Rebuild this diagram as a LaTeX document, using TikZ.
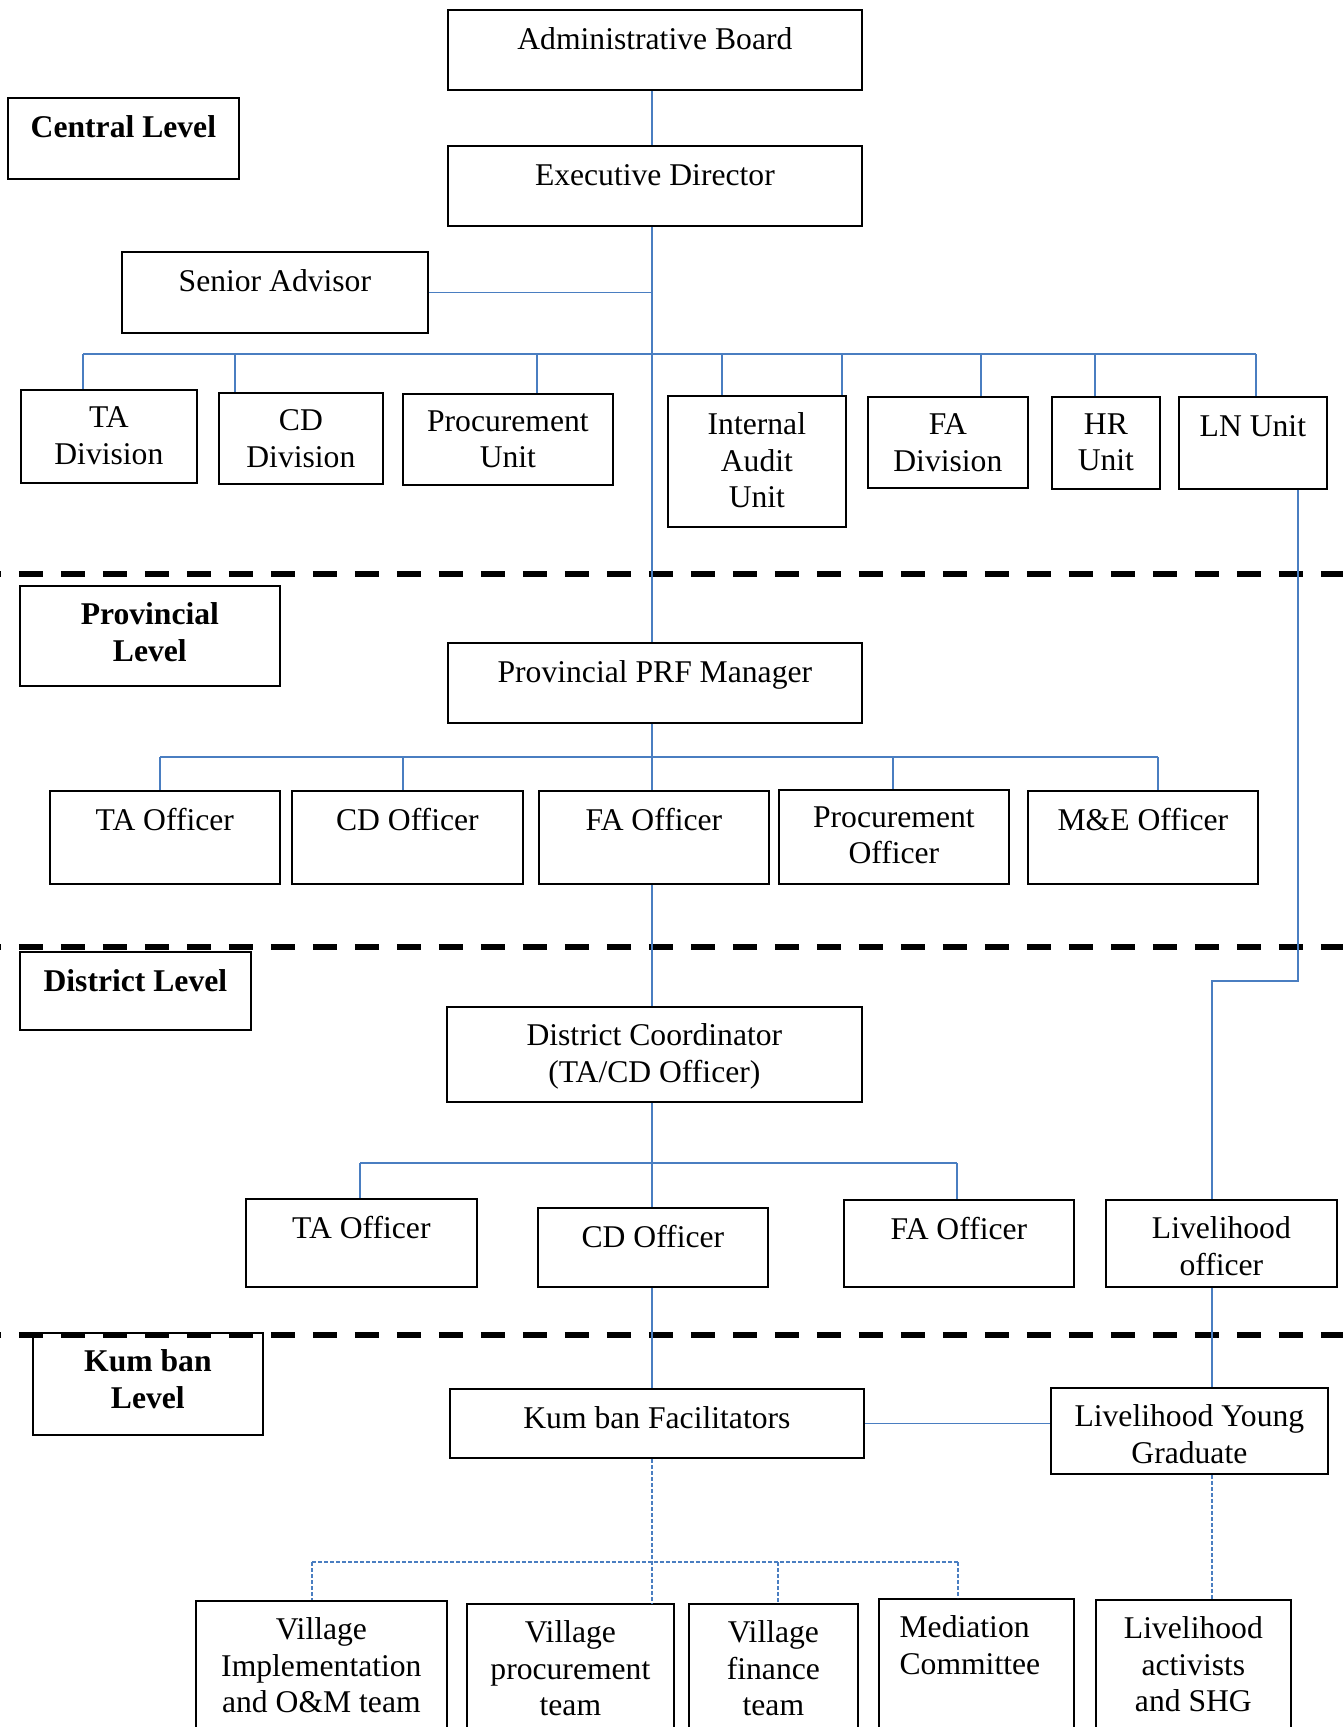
\documentclass[tikz,border=0pt]{standalone}
\usepackage{fontspec}
\setmainfont{Liberation Serif}
\definecolor{orgblue}{RGB}{74,126,193}
\tikzset{
  unitbox/.style={draw=black, line width=0.5pt, anchor=north west, inner sep=0pt},
  unittext/.style={anchor=north, align=center, inner sep=0pt,
    font=\fontsize{9pt}{10.4pt}\selectfont,
    execute at begin node={\rule{0pt}{6.5pt}}},
  leveltext/.style={unittext, font=\bfseries\fontsize{9pt}{10.6pt}\selectfont},
  link/.style={draw=orgblue, line width=0.5pt},
  softlink/.style={link, dash pattern=on 0.4mm off 0.2mm},
  levelsep/.style={draw=black, line width=0.6mm, dash pattern=on 2.4mm off 1.8mm, dash phase=2.3mm}
}
% box with its text hung from the top edge: [text style]{name}{x1}{y1}{x2}{y2}{text}
\newcommand{\orgunit}[7][unittext]{%
  \node[unitbox, minimum width={(#5-#3)*0.1mm}, minimum height={(#6-#4)*0.1mm}] (#2) at (#3,#4) {};
  \node[#1] (#2-txt) at ([yshift=-4.84pt]#2.north) {#7};}
\begin{document}
\begin{tikzpicture}[x=0.1mm, y=-0.1mm]
\useasboundingbox (0,0) rectangle (1343,1727);
\clip (0,0) rectangle (1343,1727);

% level separators
\draw[levelsep] (0,574) -- (1343,574);
\draw[levelsep] (0,947) -- (1343,947);
\draw[levelsep] (0,1335) -- (1343,1335);

% central level
\orgunit{adb}{447}{9}{861}{89}{Administrative Board}
\orgunit[leveltext]{lvc}{7}{97}{238}{178}{Central Level}
\orgunit{exd}{447}{145}{861}{225}{Executive Director}
\orgunit{sad}{121}{251}{427}{332}{Senior Advisor}
\orgunit{tad}{20}{389}{196}{482}{TA\\Division}
\orgunit{cdd}{218}{392}{382}{483}{CD\\Division}
\orgunit{pru}{402}{393}{612}{484}{Procurement\\Unit}
\orgunit{iau}{667}{395}{845}{526}{Internal\\Audit\\Unit}
\orgunit{fad}{867}{396}{1027}{487}{FA\\Division}
\orgunit{hru}{1051}{396}{1159}{488}{HR\\Unit}
\orgunit{lnu}{1178}{396}{1326}{488}{LN Unit}

% provincial level
\orgunit[leveltext]{lvp}{19}{585}{279}{685}{Provincial\\Level}
\orgunit{prf}{447}{642}{861}{722}{Provincial PRF Manager}
\orgunit{pta}{49}{790}{279}{883}{TA Officer}
\orgunit{pcd}{291}{790}{522}{883}{CD Officer}
\orgunit{pfa}{538}{790}{768}{883}{FA Officer}
\orgunit{ppr}{778}{789}{1008}{883}{Procurement\\Officer}
\orgunit{pme}{1027}{790}{1257}{883}{M\&E Officer}

% district level
\orgunit[leveltext]{lvd}{19}{951}{250}{1029}{District Level}
\orgunit{dco}{446}{1006}{861}{1101}{District Coordinator\\(TA/CD Officer)}
\orgunit{dta}{245}{1198}{476}{1286}{TA Officer}
\orgunit{dcd}{537}{1207}{767}{1286}{CD Officer}
\orgunit{dfa}{843}{1199}{1073}{1286}{FA Officer}
\orgunit{dlh}{1105}{1199}{1336}{1286}{Livelihood\\officer}

% kum ban level
\orgunit[leveltext]{lvk}{32}{1332}{262}{1434}{Kum ban\\Level}
\orgunit{kbf}{449}{1388}{863}{1457}{Kum ban Facilitators}
\orgunit{lyg}{1050}{1387}{1327}{1473}{Livelihood Young\\Graduate}

% village teams (cut by the page edge)
\orgunit{vio}{195}{1600}{446}{1760}{Village\\Implementation\\and O\&M team}
\orgunit{vpt}{466}{1603}{673}{1760}{Village\\procurement\\team}
\orgunit{vft}{688}{1603}{857}{1760}{Village\\finance\\team}
\orgunit[unittext, align=left, xshift=-0.65mm]{vmc}{878}{1598}{1073}{1760}{Mediation\\Committee}
\orgunit{las}{1095}{1599}{1290}{1760}{Livelihood\\activists\\and SHG}

% main spine
\coordinate (spine) at (652,0);
\draw[link] (spine |- adb.south) -- (spine |- exd.north);
\draw[link] (spine |- exd.south) -- (spine |- prf.north);
\draw[link] (spine |- prf.south) -- (spine |- pfa.north);
\draw[link] (spine |- pfa.south) -- (spine |- dco.north);
\draw[link] (spine |- dco.south) -- (spine |- dcd.north);
\draw[link] (spine |- dcd.south) -- (spine |- kbf.north);
\draw[link] (sad.east) -- (sad.east -| spine);

% central bus
\coordinate (cbus-w) at (83,354);
\coordinate (cbus-e) at (1256,354);
\draw[link] (cbus-w) -- (cbus-e);
\foreach \nd/\px [count=\i] in {tad/83, cdd/235, pru/537, iau/722, iau/842, fad/981, hru/1095, lnu/1256}{
  \coordinate (cb\i) at (\px,354);
  \draw[link] (cb\i) -- (cb\i |- \nd.north);
}

% provincial bus
\coordinate (pbus-w) at (160,757);
\coordinate (pbus-e) at (1158,757);
\draw[link] (pbus-w) -- (pbus-e);
\foreach \nd/\px [count=\i] in {pta/160, pcd/403, ppr/893, pme/1158}{
  \coordinate (pb\i) at (\px,757);
  \draw[link] (pb\i) -- (pb\i |- \nd.north);
}

% district bus
\coordinate (dbus-w) at (360,1163);
\coordinate (dbus-e) at (957,1163);
\draw[link] (dbus-w) -- (dbus-e);
\draw[link] (dbus-w) -- (dbus-w |- dta.north);
\draw[link] (dbus-e) -- (dbus-e |- dfa.north);

% livelihood line
\coordinate (lnbend1) at (1298,981);
\coordinate (lnbend2) at (1212,981);
\draw[link] (lnu.south -| lnbend1) -- (lnbend1) -- (lnbend2) -- (lnbend2 |- dlh.north);
\draw[link] (dlh.south -| lnbend2) -- (lnbend2 |- lyg.north);
\draw[link] (kbf.east) -- (kbf.east -| lyg.west);

% village links
\coordinate (vbus-w) at (312,1562);
\coordinate (vbus-e) at (958,1562);
\draw[softlink] (spine |- kbf.south) -- (spine |- vpt.north);
\draw[softlink] (vbus-w) -- (vbus-e);
\draw[softlink] (vbus-w) -- (vbus-w |- vio.north);
\coordinate (vb-f) at (778,1562);
\draw[softlink] (vb-f) -- (vb-f |- vft.north);
\draw[softlink] (vbus-e) -- (vbus-e |- vmc.north);
\draw[softlink] (lyg.south -| lnbend2) -- (lnbend2 |- las.north);
\end{tikzpicture}
\end{document}
